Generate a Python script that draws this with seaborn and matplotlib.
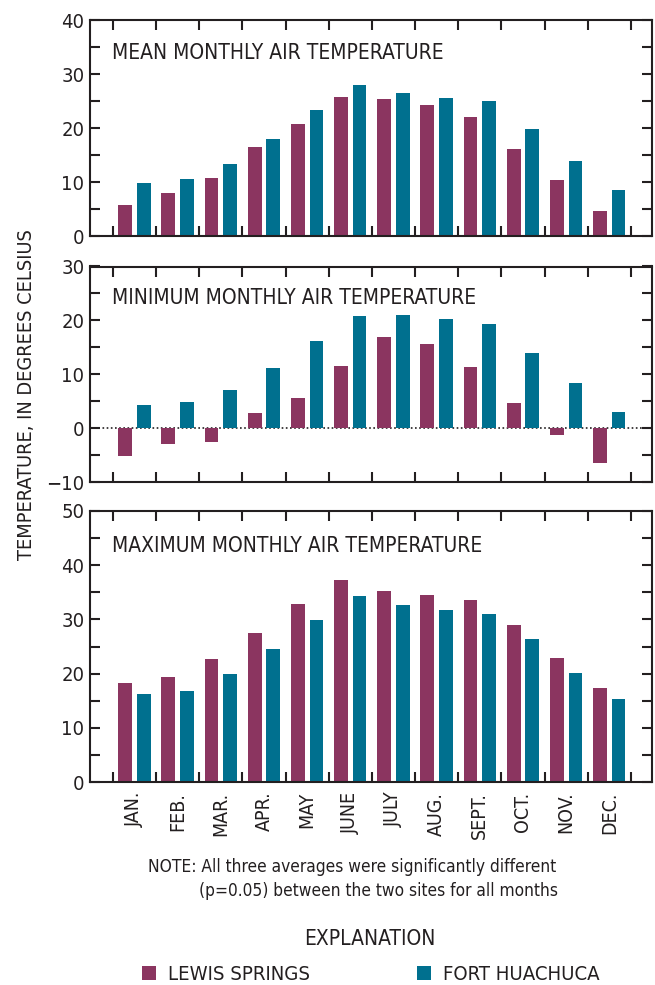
import numpy as np
import pandas as pd
import matplotlib
matplotlib.use("Agg")
import matplotlib.pyplot as plt
from matplotlib.patches import Patch
from matplotlib.ticker import MultipleLocator
import seaborn as sns

months = ["JAN.", "FEB.", "MAR.", "APR.", "MAY", "JUNE", "JULY", "AUG.", "SEPT.", "OCT.", "NOV.", "DEC."]
sites = ["LEWIS SPRINGS", "FORT HUACHUCA"]

mean_lewis = [5.7, 8.0, 10.8, 16.4, 20.7, 25.7, 25.4, 24.2, 22.1, 16.1, 10.3, 4.6]
mean_fort = [9.8, 10.6, 13.4, 18.0, 23.4, 27.9, 26.4, 25.6, 25.0, 19.8, 13.9, 8.6]
min_lewis = [-5.1, -3.0, -2.6, 2.8, 5.5, 11.5, 17.0, 15.6, 11.4, 4.7, -1.2, -6.4]
min_fort = [4.3, 4.9, 7.1, 11.2, 16.2, 20.9, 21.0, 20.2, 19.3, 14.0, 8.3, 3.0]
max_lewis = [18.3, 19.4, 22.7, 27.4, 32.9, 37.2, 35.2, 34.5, 33.5, 28.9, 22.8, 17.4]
max_fort = [16.3, 16.8, 19.9, 24.6, 29.9, 34.3, 32.7, 31.8, 31.0, 26.3, 20.2, 15.3]

titles = ["MEAN MONTHLY AIR TEMPERATURE", "MINIMUM MONTHLY AIR TEMPERATURE", "MAXIMUM MONTHLY AIR TEMPERATURE"]
ylims = [(0, 40), (-10, 30), (0, 50)]

colors = {"LEWIS SPRINGS": "#8B3560", "FORT HUACHUCA": "#00708F"}
ink = "#231F20"

sns.set_style("white")
plt.rcParams["font.family"] = ["DejaVu Sans"]
plt.rcParams["font.stretch"] = "condensed"
plt.rcParams["text.color"] = ink
plt.rcParams["axes.labelcolor"] = ink
plt.rcParams["xtick.color"] = ink
plt.rcParams["ytick.color"] = ink

fig = plt.figure(figsize=(6.55, 9.85), dpi=100)
W, H = 655, 985
boxes = [(20, 236), (266.5, 482), (511, 782)]
left, right = 90, 652

series = [(mean_lewis, mean_fort), (min_lewis, min_fort), (max_lewis, max_fort)]
fs = 15
tick_fs = 14.5
title_y = [0.847, 0.854, 0.871]

for i, ((a, b), title, yl, (top, bot)) in enumerate(zip(series, titles, ylims, boxes)):
    ax = fig.add_axes([left / W, 1 - bot / H, (right - left) / W, (bot - top) / H])
    df = pd.DataFrame({
        "month": months * 2,
        "site": [sites[0]] * 12 + [sites[1]] * 12,
        "value": list(a) + list(b),
    })
    sns.barplot(data=df, x="month", y="value", hue="site", order=months, hue_order=sites,
                palette=colors, width=0.86, gap=0.26, ax=ax, legend=False,
                linewidth=0, saturation=1)
    ax.set_xlim(-1.03, 11.99)
    ax.set_ylim(*yl)
    ax.set_xlabel("")
    ax.set_ylabel("")
    for s in ax.spines.values():
        s.set_visible(True)
        s.set_linewidth(1.5)
        s.set_color(ink)
    ax.yaxis.set_major_locator(MultipleLocator(10))
    ax.yaxis.set_minor_locator(MultipleLocator(5))
    ax.tick_params(axis="y", which="both", direction="in", left=True, right=True,
                   length=7, width=1.5, labelsize=tick_fs, pad=4)
    ax.set_xticks(np.arange(-0.5, 12, 1), minor=True)
    ax.tick_params(axis="x", which="minor", direction="in", top=True, bottom=True,
                   length=7, width=1.5)
    if i < 2:
        ax.set_xticks([])
    else:
        ax.set_xticks(np.arange(12))
        ax.set_xticklabels(months, rotation=90, va="top", ha="center")
        ax.tick_params(axis="x", which="major", length=0, labelsize=14, pad=7)
    if yl[0] < 0:
        ax.axhline(0, color=ink, linestyle=(0, (1, 1.5)), linewidth=1.2, zorder=0.5)
    ax.text(0.04, title_y[i], title, transform=ax.transAxes,
            fontsize=fs, va="center", ha="left", color=ink)

fig.text(27 / W, 1 - 395 / H, "TEMPERATURE, IN DEGREES CELSIUS", rotation=90,
         ha="center", va="center", fontsize=14.3)

fig.text(148 / W, 1 - 867 / H, "NOTE: All three averages were significantly different",
         ha="left", va="center", fontsize=12.4)
fig.text(199 / W, 1 - 891 / H, "(p=0.05) between the two sites for all months",
         ha="left", va="center", fontsize=12.4)
fig.text(370 / W, 1 - 939 / H, "EXPLANATION", ha="center", va="center", fontsize=fs)

handles = [Patch(facecolor=colors[s], edgecolor="none", label=s) for s in sites]
leg = fig.legend(handles=handles, loc="center left", bbox_to_anchor=(142 / W, 1 - 975 / H),
                 ncol=2, frameon=False, fontsize=14.6, handlelength=0.68, handleheight=0.68,
                 handletextpad=0.62, columnspacing=5.25, borderaxespad=0, borderpad=0)

fig.savefig("out.png", dpi=100)
